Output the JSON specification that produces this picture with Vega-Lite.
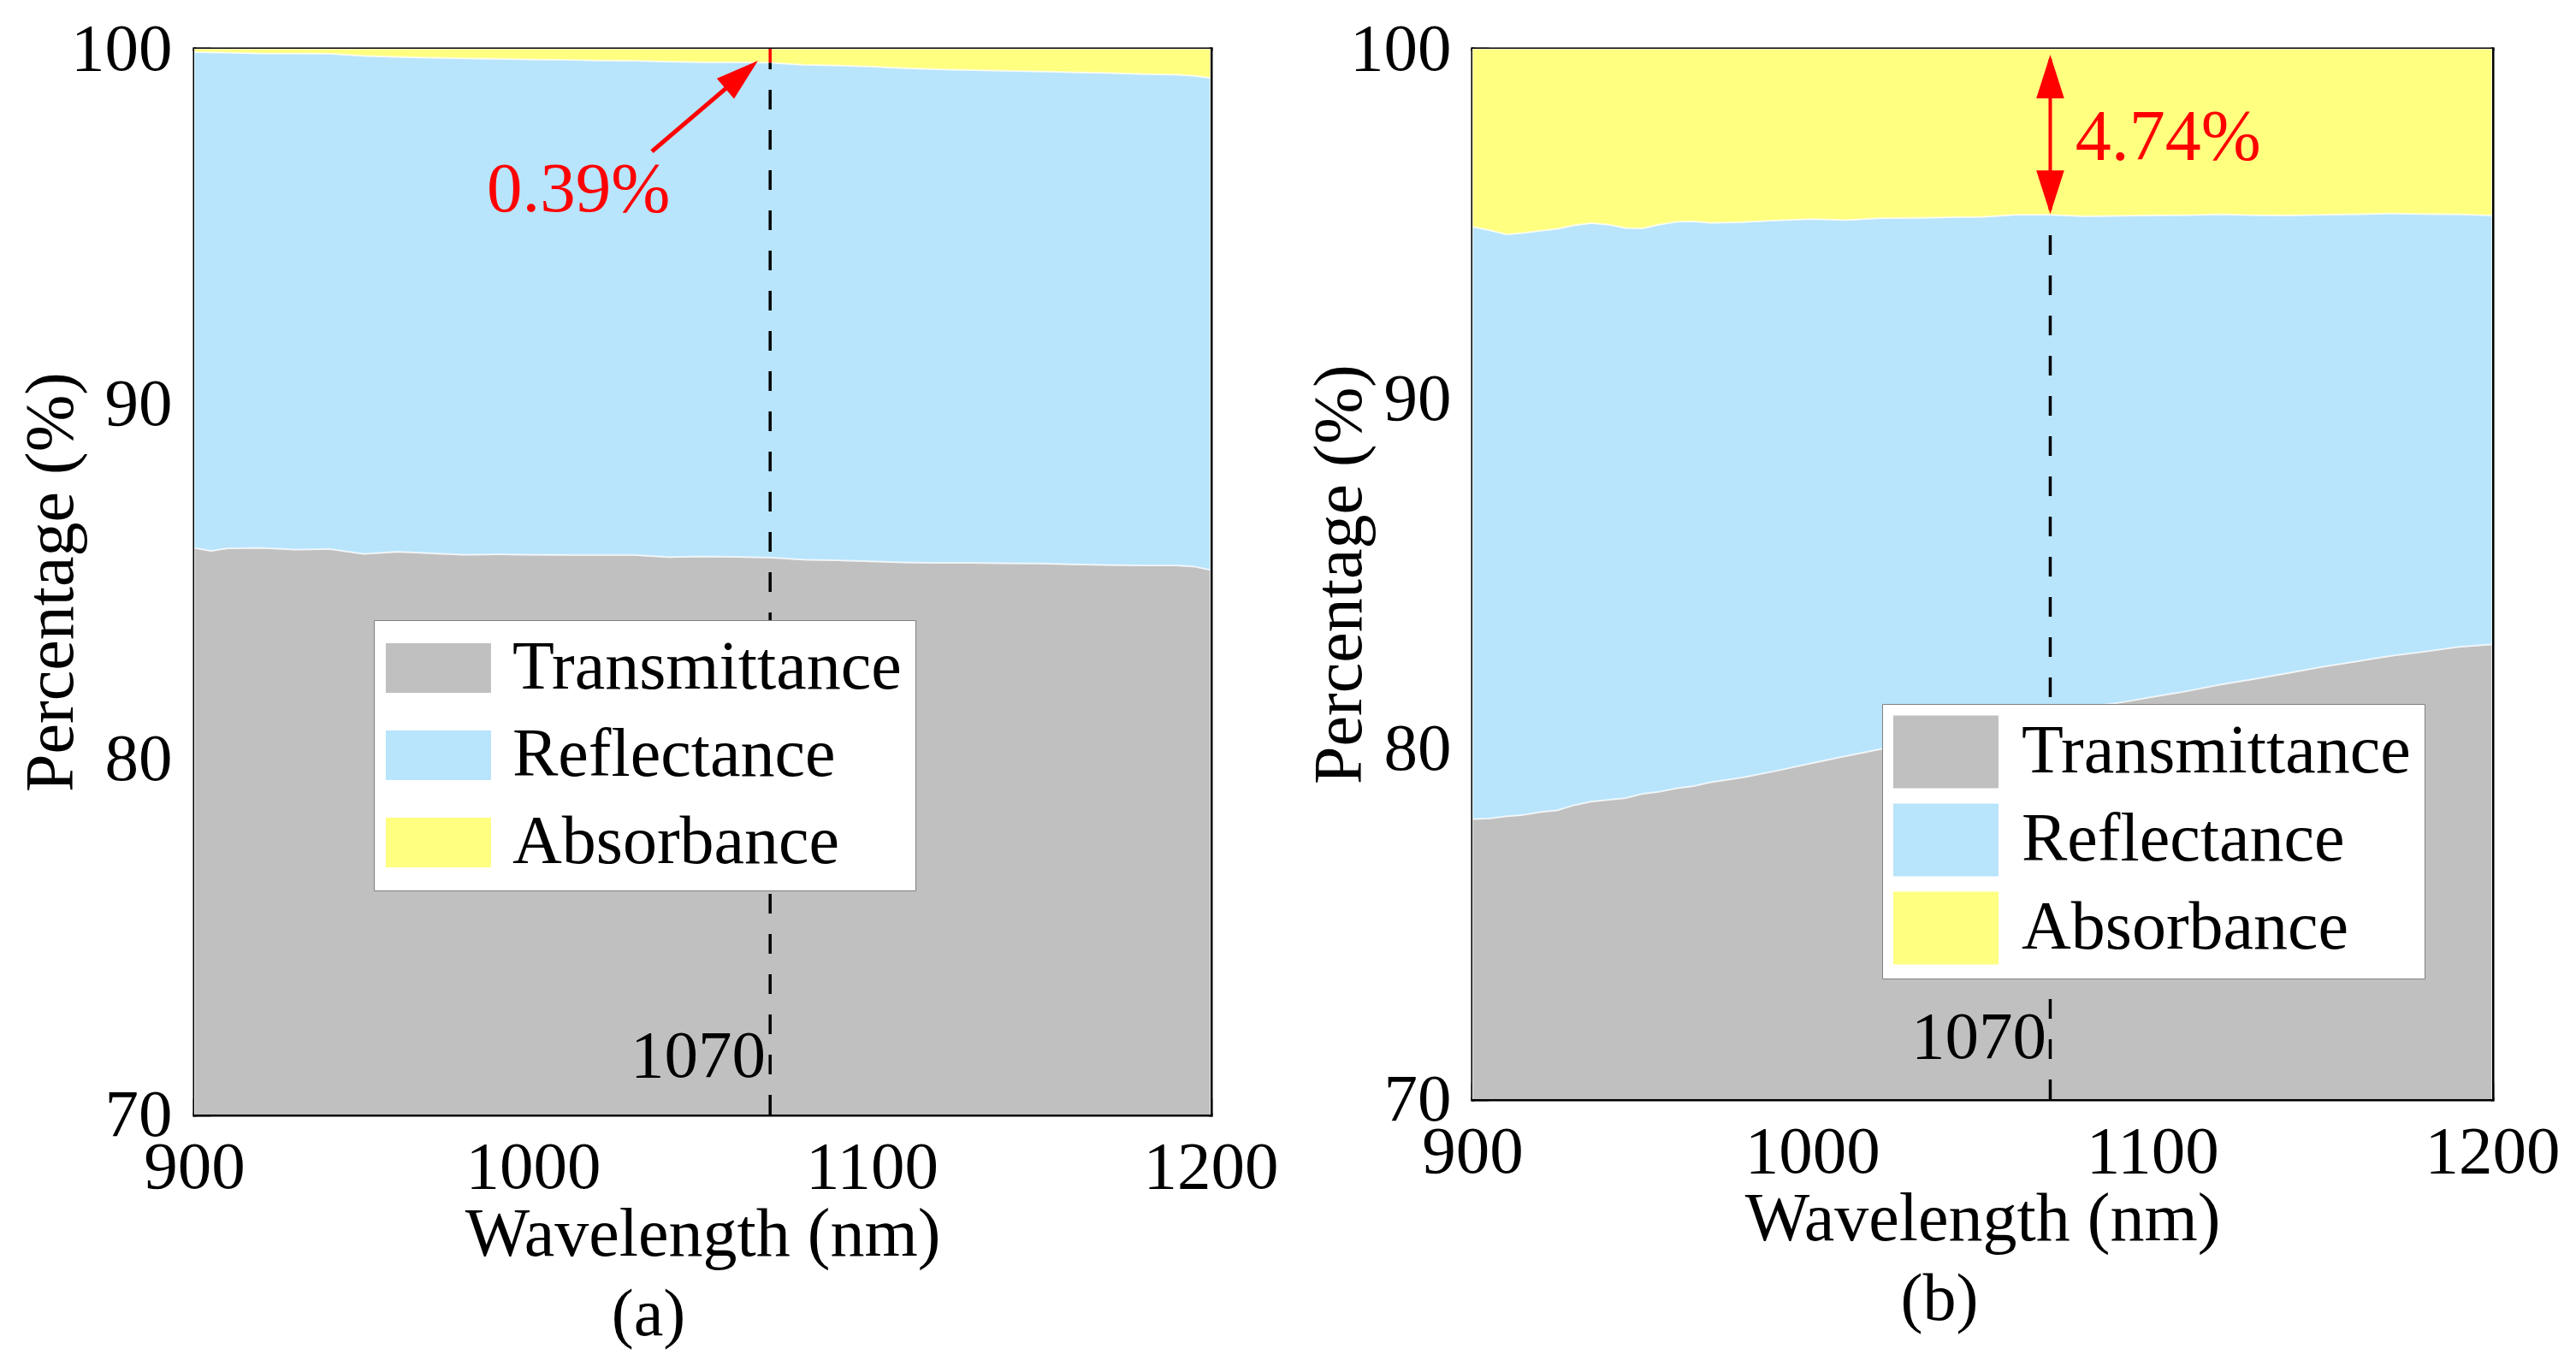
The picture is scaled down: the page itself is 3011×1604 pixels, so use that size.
{
  "$schema": "https://vega.github.io/schema/vega-lite/v6.json",
  "background": "white",
  "padding": {"left": 20, "top": 18, "right": 5, "bottom": 5},
  "spacing": 32,
  "datasets": {
    "curves": [
      {"p":"a","wl":900,"comp":"Transmittance","v":85.95},{"p":"a","wl":900,"comp":"Reflectance","v":13.96},{"p":"a","wl":900,"comp":"Absorbance","v":0.09},
      {"p":"a","wl":905,"comp":"Transmittance","v":85.87},{"p":"a","wl":905,"comp":"Reflectance","v":14.03},{"p":"a","wl":905,"comp":"Absorbance","v":0.10},
      {"p":"a","wl":910,"comp":"Transmittance","v":85.94},{"p":"a","wl":910,"comp":"Reflectance","v":13.95},{"p":"a","wl":910,"comp":"Absorbance","v":0.11},
      {"p":"a","wl":920,"comp":"Transmittance","v":85.95},{"p":"a","wl":920,"comp":"Reflectance","v":13.92},{"p":"a","wl":920,"comp":"Absorbance","v":0.13},
      {"p":"a","wl":930,"comp":"Transmittance","v":85.90},{"p":"a","wl":930,"comp":"Reflectance","v":13.97},{"p":"a","wl":930,"comp":"Absorbance","v":0.13},
      {"p":"a","wl":940,"comp":"Transmittance","v":85.92},{"p":"a","wl":940,"comp":"Reflectance","v":13.94},{"p":"a","wl":940,"comp":"Absorbance","v":0.14},
      {"p":"a","wl":950,"comp":"Transmittance","v":85.78},{"p":"a","wl":950,"comp":"Reflectance","v":14.02},{"p":"a","wl":950,"comp":"Absorbance","v":0.20},
      {"p":"a","wl":960,"comp":"Transmittance","v":85.84},{"p":"a","wl":960,"comp":"Reflectance","v":13.93},{"p":"a","wl":960,"comp":"Absorbance","v":0.23},
      {"p":"a","wl":970,"comp":"Transmittance","v":85.80},{"p":"a","wl":970,"comp":"Reflectance","v":13.95},{"p":"a","wl":970,"comp":"Absorbance","v":0.25},
      {"p":"a","wl":980,"comp":"Transmittance","v":85.76},{"p":"a","wl":980,"comp":"Reflectance","v":13.97},{"p":"a","wl":980,"comp":"Absorbance","v":0.27},
      {"p":"a","wl":990,"comp":"Transmittance","v":85.77},{"p":"a","wl":990,"comp":"Reflectance","v":13.95},{"p":"a","wl":990,"comp":"Absorbance","v":0.28},
      {"p":"a","wl":1000,"comp":"Transmittance","v":85.76},{"p":"a","wl":1000,"comp":"Reflectance","v":13.94},{"p":"a","wl":1000,"comp":"Absorbance","v":0.30},
      {"p":"a","wl":1010,"comp":"Transmittance","v":85.75},{"p":"a","wl":1010,"comp":"Reflectance","v":13.94},{"p":"a","wl":1010,"comp":"Absorbance","v":0.31},
      {"p":"a","wl":1020,"comp":"Transmittance","v":85.75},{"p":"a","wl":1020,"comp":"Reflectance","v":13.92},{"p":"a","wl":1020,"comp":"Absorbance","v":0.33},
      {"p":"a","wl":1030,"comp":"Transmittance","v":85.75},{"p":"a","wl":1030,"comp":"Reflectance","v":13.91},{"p":"a","wl":1030,"comp":"Absorbance","v":0.34},
      {"p":"a","wl":1040,"comp":"Transmittance","v":85.69},{"p":"a","wl":1040,"comp":"Reflectance","v":13.95},{"p":"a","wl":1040,"comp":"Absorbance","v":0.36},
      {"p":"a","wl":1050,"comp":"Transmittance","v":85.71},{"p":"a","wl":1050,"comp":"Reflectance","v":13.91},{"p":"a","wl":1050,"comp":"Absorbance","v":0.38},
      {"p":"a","wl":1060,"comp":"Transmittance","v":85.70},{"p":"a","wl":1060,"comp":"Reflectance","v":13.92},{"p":"a","wl":1060,"comp":"Absorbance","v":0.38},
      {"p":"a","wl":1070,"comp":"Transmittance","v":85.68},{"p":"a","wl":1070,"comp":"Reflectance","v":13.93},{"p":"a","wl":1070,"comp":"Absorbance","v":0.39},
      {"p":"a","wl":1080,"comp":"Transmittance","v":85.62},{"p":"a","wl":1080,"comp":"Reflectance","v":13.93},{"p":"a","wl":1080,"comp":"Absorbance","v":0.45},
      {"p":"a","wl":1090,"comp":"Transmittance","v":85.60},{"p":"a","wl":1090,"comp":"Reflectance","v":13.93},{"p":"a","wl":1090,"comp":"Absorbance","v":0.47},
      {"p":"a","wl":1100,"comp":"Transmittance","v":85.57},{"p":"a","wl":1100,"comp":"Reflectance","v":13.93},{"p":"a","wl":1100,"comp":"Absorbance","v":0.50},
      {"p":"a","wl":1110,"comp":"Transmittance","v":85.54},{"p":"a","wl":1110,"comp":"Reflectance","v":13.91},{"p":"a","wl":1110,"comp":"Absorbance","v":0.55},
      {"p":"a","wl":1120,"comp":"Transmittance","v":85.53},{"p":"a","wl":1120,"comp":"Reflectance","v":13.89},{"p":"a","wl":1120,"comp":"Absorbance","v":0.58},
      {"p":"a","wl":1130,"comp":"Transmittance","v":85.53},{"p":"a","wl":1130,"comp":"Reflectance","v":13.87},{"p":"a","wl":1130,"comp":"Absorbance","v":0.60},
      {"p":"a","wl":1140,"comp":"Transmittance","v":85.52},{"p":"a","wl":1140,"comp":"Reflectance","v":13.86},{"p":"a","wl":1140,"comp":"Absorbance","v":0.62},
      {"p":"a","wl":1150,"comp":"Transmittance","v":85.51},{"p":"a","wl":1150,"comp":"Reflectance","v":13.85},{"p":"a","wl":1150,"comp":"Absorbance","v":0.64},
      {"p":"a","wl":1160,"comp":"Transmittance","v":85.49},{"p":"a","wl":1160,"comp":"Reflectance","v":13.85},{"p":"a","wl":1160,"comp":"Absorbance","v":0.66},
      {"p":"a","wl":1170,"comp":"Transmittance","v":85.47},{"p":"a","wl":1170,"comp":"Reflectance","v":13.85},{"p":"a","wl":1170,"comp":"Absorbance","v":0.68},
      {"p":"a","wl":1180,"comp":"Transmittance","v":85.46},{"p":"a","wl":1180,"comp":"Reflectance","v":13.83},{"p":"a","wl":1180,"comp":"Absorbance","v":0.71},
      {"p":"a","wl":1190,"comp":"Transmittance","v":85.46},{"p":"a","wl":1190,"comp":"Reflectance","v":13.81},{"p":"a","wl":1190,"comp":"Absorbance","v":0.73},
      {"p":"a","wl":1195,"comp":"Transmittance","v":85.43},{"p":"a","wl":1195,"comp":"Reflectance","v":13.81},{"p":"a","wl":1195,"comp":"Absorbance","v":0.76},
      {"p":"a","wl":1200,"comp":"Transmittance","v":85.33},{"p":"a","wl":1200,"comp":"Reflectance","v":13.85},{"p":"a","wl":1200,"comp":"Absorbance","v":0.82},
      {"p":"b","wl":900,"comp":"Transmittance","v":78.00},{"p":"b","wl":900,"comp":"Reflectance","v":16.92},{"p":"b","wl":900,"comp":"Absorbance","v":5.08},
      {"p":"b","wl":905,"comp":"Transmittance","v":78.02},{"p":"b","wl":905,"comp":"Reflectance","v":16.80},{"p":"b","wl":905,"comp":"Absorbance","v":5.18},
      {"p":"b","wl":910,"comp":"Transmittance","v":78.08},{"p":"b","wl":910,"comp":"Reflectance","v":16.62},{"p":"b","wl":910,"comp":"Absorbance","v":5.30},
      {"p":"b","wl":915,"comp":"Transmittance","v":78.12},{"p":"b","wl":915,"comp":"Reflectance","v":16.62},{"p":"b","wl":915,"comp":"Absorbance","v":5.26},
      {"p":"b","wl":920,"comp":"Transmittance","v":78.20},{"p":"b","wl":920,"comp":"Reflectance","v":16.60},{"p":"b","wl":920,"comp":"Absorbance","v":5.20},
      {"p":"b","wl":925,"comp":"Transmittance","v":78.25},{"p":"b","wl":925,"comp":"Reflectance","v":16.61},{"p":"b","wl":925,"comp":"Absorbance","v":5.14},
      {"p":"b","wl":930,"comp":"Transmittance","v":78.40},{"p":"b","wl":930,"comp":"Reflectance","v":16.56},{"p":"b","wl":930,"comp":"Absorbance","v":5.04},
      {"p":"b","wl":935,"comp":"Transmittance","v":78.50},{"p":"b","wl":935,"comp":"Reflectance","v":16.52},{"p":"b","wl":935,"comp":"Absorbance","v":4.98},
      {"p":"b","wl":940,"comp":"Transmittance","v":78.55},{"p":"b","wl":940,"comp":"Reflectance","v":16.43},{"p":"b","wl":940,"comp":"Absorbance","v":5.02},
      {"p":"b","wl":945,"comp":"Transmittance","v":78.60},{"p":"b","wl":945,"comp":"Reflectance","v":16.28},{"p":"b","wl":945,"comp":"Absorbance","v":5.12},
      {"p":"b","wl":950,"comp":"Transmittance","v":78.72},{"p":"b","wl":950,"comp":"Reflectance","v":16.15},{"p":"b","wl":950,"comp":"Absorbance","v":5.13},
      {"p":"b","wl":955,"comp":"Transmittance","v":78.78},{"p":"b","wl":955,"comp":"Reflectance","v":16.20},{"p":"b","wl":955,"comp":"Absorbance","v":5.02},
      {"p":"b","wl":960,"comp":"Transmittance","v":78.88},{"p":"b","wl":960,"comp":"Reflectance","v":16.18},{"p":"b","wl":960,"comp":"Absorbance","v":4.94},
      {"p":"b","wl":965,"comp":"Transmittance","v":78.94},{"p":"b","wl":965,"comp":"Reflectance","v":16.13},{"p":"b","wl":965,"comp":"Absorbance","v":4.93},
      {"p":"b","wl":970,"comp":"Transmittance","v":79.05},{"p":"b","wl":970,"comp":"Reflectance","v":15.98},{"p":"b","wl":970,"comp":"Absorbance","v":4.97},
      {"p":"b","wl":980,"comp":"Transmittance","v":79.20},{"p":"b","wl":980,"comp":"Reflectance","v":15.85},{"p":"b","wl":980,"comp":"Absorbance","v":4.95},
      {"p":"b","wl":990,"comp":"Transmittance","v":79.39},{"p":"b","wl":990,"comp":"Reflectance","v":15.71},{"p":"b","wl":990,"comp":"Absorbance","v":4.90},
      {"p":"b","wl":1000,"comp":"Transmittance","v":79.60},{"p":"b","wl":1000,"comp":"Reflectance","v":15.54},{"p":"b","wl":1000,"comp":"Absorbance","v":4.86},
      {"p":"b","wl":1010,"comp":"Transmittance","v":79.80},{"p":"b","wl":1010,"comp":"Reflectance","v":15.31},{"p":"b","wl":1010,"comp":"Absorbance","v":4.89},
      {"p":"b","wl":1020,"comp":"Transmittance","v":80.00},{"p":"b","wl":1020,"comp":"Reflectance","v":15.16},{"p":"b","wl":1020,"comp":"Absorbance","v":4.84},
      {"p":"b","wl":1030,"comp":"Transmittance","v":80.20},{"p":"b","wl":1030,"comp":"Reflectance","v":14.97},{"p":"b","wl":1030,"comp":"Absorbance","v":4.83},
      {"p":"b","wl":1040,"comp":"Transmittance","v":80.42},{"p":"b","wl":1040,"comp":"Reflectance","v":14.77},{"p":"b","wl":1040,"comp":"Absorbance","v":4.81},
      {"p":"b","wl":1050,"comp":"Transmittance","v":80.62},{"p":"b","wl":1050,"comp":"Reflectance","v":14.58},{"p":"b","wl":1050,"comp":"Absorbance","v":4.80},
      {"p":"b","wl":1060,"comp":"Transmittance","v":80.82},{"p":"b","wl":1060,"comp":"Reflectance","v":14.44},{"p":"b","wl":1060,"comp":"Absorbance","v":4.74},
      {"p":"b","wl":1070,"comp":"Transmittance","v":81.02},{"p":"b","wl":1070,"comp":"Reflectance","v":14.24},{"p":"b","wl":1070,"comp":"Absorbance","v":4.74},
      {"p":"b","wl":1080,"comp":"Transmittance","v":81.20},{"p":"b","wl":1080,"comp":"Reflectance","v":14.02},{"p":"b","wl":1080,"comp":"Absorbance","v":4.78},
      {"p":"b","wl":1090,"comp":"Transmittance","v":81.32},{"p":"b","wl":1090,"comp":"Reflectance","v":13.91},{"p":"b","wl":1090,"comp":"Absorbance","v":4.77},
      {"p":"b","wl":1100,"comp":"Transmittance","v":81.49},{"p":"b","wl":1100,"comp":"Reflectance","v":13.75},{"p":"b","wl":1100,"comp":"Absorbance","v":4.76},
      {"p":"b","wl":1110,"comp":"Transmittance","v":81.65},{"p":"b","wl":1110,"comp":"Reflectance","v":13.60},{"p":"b","wl":1110,"comp":"Absorbance","v":4.75},
      {"p":"b","wl":1120,"comp":"Transmittance","v":81.84},{"p":"b","wl":1120,"comp":"Reflectance","v":13.43},{"p":"b","wl":1120,"comp":"Absorbance","v":4.73},
      {"p":"b","wl":1130,"comp":"Transmittance","v":82.00},{"p":"b","wl":1130,"comp":"Reflectance","v":13.25},{"p":"b","wl":1130,"comp":"Absorbance","v":4.75},
      {"p":"b","wl":1140,"comp":"Transmittance","v":82.17},{"p":"b","wl":1140,"comp":"Reflectance","v":13.07},{"p":"b","wl":1140,"comp":"Absorbance","v":4.76},
      {"p":"b","wl":1150,"comp":"Transmittance","v":82.35},{"p":"b","wl":1150,"comp":"Reflectance","v":12.91},{"p":"b","wl":1150,"comp":"Absorbance","v":4.74},
      {"p":"b","wl":1160,"comp":"Transmittance","v":82.50},{"p":"b","wl":1160,"comp":"Reflectance","v":12.77},{"p":"b","wl":1160,"comp":"Absorbance","v":4.73},
      {"p":"b","wl":1170,"comp":"Transmittance","v":82.66},{"p":"b","wl":1170,"comp":"Reflectance","v":12.64},{"p":"b","wl":1170,"comp":"Absorbance","v":4.70},
      {"p":"b","wl":1180,"comp":"Transmittance","v":82.78},{"p":"b","wl":1180,"comp":"Reflectance","v":12.50},{"p":"b","wl":1180,"comp":"Absorbance","v":4.72},
      {"p":"b","wl":1190,"comp":"Transmittance","v":82.92},{"p":"b","wl":1190,"comp":"Reflectance","v":12.35},{"p":"b","wl":1190,"comp":"Absorbance","v":4.73},
      {"p":"b","wl":1200,"comp":"Transmittance","v":82.99},{"p":"b","wl":1200,"comp":"Reflectance","v":12.25},{"p":"b","wl":1200,"comp":"Absorbance","v":4.76}
    ]
  },
  "hconcat": [
    {
      "width": 1188,
      "height": 1246,
      "title": {"text": "(a)", "orient": "bottom", "anchor": "middle", "frame": "group", "dx": -63, "offset": 16, "fontSize": 78, "font": "Liberation Serif", "fontWeight": "normal", "color": "black"},
      "layer": [
        {
          "data": {"name": "curves"},
          "transform": [{"filter": "datum.p == 'a'"}],
          "mark": {"type": "area", "clip": true, "stroke": "white", "strokeWidth": 2, "strokeOpacity": 0.6},
          "encoding": {
            "x": {"field": "wl", "type": "quantitative", "scale": {"domain": [900, 1200], "nice": false, "zero": false},
                  "axis": {"orient": "bottom", "values": [900, 1000, 1100, 1200], "format": "d", "title": "Wavelength (nm)", "tickSize": -19, "labelPadding": 42, "titlePadding": 0}},
            "y": {"field": "v", "type": "quantitative", "stack": "zero", "scale": {"domain": [70, 100], "nice": false, "zero": false},
                  "axis": {"orient": "left", "values": [70, 80, 90, 100], "format": "d", "title": "Percentage (%)", "tickSize": -19, "labelPadding": 45, "titlePadding": -19}},
            "color": {"field": "comp", "type": "nominal",
                      "scale": {"domain": ["Transmittance", "Reflectance", "Absorbance"], "range": ["#C0C0C0", "#B8E4FC", "#FFFF80"]},
                      "legend": {"orient": "none", "legendX": 210, "legendY": 668, "title": null, "symbolType": "M-1.094,-0.755L2.106,-0.755L2.106,0.755L-1.094,0.755Z", "symbolSize": 5910, "symbolStrokeWidth": 0, "symbolOpacity": 1, "rowPadding": 22, "labelOffset": 66, "labelLimit": 1000, "padding": 16, "strokeColor": "#808080", "fillColor": "white"}},
            "order": {"field": "comp", "type": "ordinal", "sort": "descending"}
          }
        },
        {
          "data": {"values": [{"wl": 1070, "lo": 70, "hi": 99.61}]},
          "mark": {"type": "rule", "color": "black", "strokeWidth": 3.5, "strokeDash": [23, 24]},
          "encoding": {
            "x": {"field": "wl", "type": "quantitative", "axis": {"orient": "bottom", "values": [950, 1050, 1150], "tickSize": -10, "labels": false, "domain": false, "title": null}},
            "y": {"field": "lo", "type": "quantitative", "axis": {"orient": "left", "values": [75, 85, 95], "tickSize": -10, "labels": false, "domain": false, "title": null}},
            "y2": {"field": "hi"}
          }
        },
        {
          "data": {"values": [{"wl": 1070, "lo": 99.61, "hi": 100}]},
          "mark": {"type": "rule", "color": "red", "strokeWidth": 3.5},
          "encoding": {
            "x": {"field": "wl", "type": "quantitative", "axis": {"orient": "top", "ticks": false, "labels": false, "domain": true, "title": null}},
            "y": {"field": "lo", "type": "quantitative", "axis": {"orient": "right", "ticks": false, "labels": false, "domain": true, "title": null}},
            "y2": {"field": "hi"}
          }
        },
        {
          "data": {"values": [{"x0": 1035.1, "y0": 97.11, "x1": 1060.7, "y1": 99.19}]},
          "mark": {"type": "rule", "color": "red", "strokeWidth": 5},
          "encoding": {
            "x": {"field": "x0", "type": "quantitative", "axis": null}, "x2": {"field": "x1"},
            "y": {"field": "y0", "type": "quantitative", "axis": null}, "y2": {"field": "y1"}
          }
        },
        {
          "data": {"values": [{"wl": 1066.4, "v": 99.66}]},
          "mark": {"type": "point", "shape": "M0,0L0.31,1L-0.31,1Z", "size": 10000, "angle": 49.5, "filled": true, "color": "red", "opacity": 1, "strokeWidth": 0},
          "encoding": {
            "x": {"field": "wl", "type": "quantitative", "axis": null},
            "y": {"field": "v", "type": "quantitative", "axis": null}
          }
        },
        {
          "data": {"values": [{"wl": 1013.4, "v": 95.43, "label": "0.39%"}]},
          "mark": {"type": "text", "color": "red", "font": "Liberation Serif", "fontSize": 83, "align": "center", "baseline": "alphabetic"},
          "encoding": {
            "x": {"field": "wl", "type": "quantitative", "axis": null},
            "y": {"field": "v", "type": "quantitative", "axis": null},
            "text": {"field": "label"}
          }
        },
        {
          "data": {"values": [{"wl": 1068.7, "v": 71.06, "label": "1070"}]},
          "mark": {"type": "text", "color": "black", "font": "Liberation Serif", "fontSize": 79, "align": "right", "baseline": "alphabetic"},
          "encoding": {
            "x": {"field": "wl", "type": "quantitative", "axis": null},
            "y": {"field": "v", "type": "quantitative", "axis": null},
            "text": {"field": "label"}
          }
        }
      ],
      "resolve": {"axis": {"x": "independent", "y": "independent"}}
    },
    {
      "width": 1192,
      "height": 1228,
      "title": {"text": "(b)", "orient": "bottom", "anchor": "middle", "frame": "group", "dx": -50, "offset": 16, "fontSize": 78, "font": "Liberation Serif", "fontWeight": "normal", "color": "black"},
      "layer": [
        {
          "data": {"name": "curves"},
          "transform": [{"filter": "datum.p == 'b'"}],
          "mark": {"type": "area", "clip": true, "stroke": "white", "strokeWidth": 2, "strokeOpacity": 0.6},
          "encoding": {
            "x": {"field": "wl", "type": "quantitative", "scale": {"domain": [900, 1200], "nice": false, "zero": false},
                  "axis": {"orient": "bottom", "values": [900, 1000, 1100, 1200], "format": "d", "title": "Wavelength (nm)", "tickSize": -19, "labelPadding": 42, "titlePadding": 0}},
            "y": {"field": "v", "type": "quantitative", "stack": "zero", "scale": {"domain": [70, 100], "nice": false, "zero": false},
                  "axis": {"orient": "left", "values": [70, 80, 90, 100], "format": "d", "title": "Percentage (%)", "tickSize": -19, "labelPadding": 44, "titlePadding": -30}},
            "color": {"field": "comp", "type": "nominal",
                      "scale": {"domain": ["Transmittance", "Reflectance", "Absorbance"], "range": ["#C0C0C0", "#B8E4FC", "#FFFF80"]},
                      "legend": {"orient": "none", "legendX": 479, "legendY": 766, "title": null, "symbolType": "M-1.12,-1.107L2.08,-1.107L2.08,1.107L-1.12,1.107Z", "symbolSize": 5910, "symbolStrokeWidth": 0, "symbolOpacity": 1, "rowPadding": 17, "labelOffset": 67, "labelLimit": 1000, "padding": 16, "strokeColor": "#808080", "fillColor": "white"}},
            "order": {"field": "comp", "type": "ordinal", "sort": "descending"}
          }
        },
        {
          "data": {"values": [{"wl": 1070, "lo": 70, "hi": 95.26}]},
          "mark": {"type": "rule", "color": "black", "strokeWidth": 3.5, "strokeDash": [23, 24]},
          "encoding": {
            "x": {"field": "wl", "type": "quantitative", "axis": {"orient": "bottom", "values": [950, 1050, 1150], "tickSize": -10, "labels": false, "domain": false, "title": null}},
            "y": {"field": "lo", "type": "quantitative", "axis": {"orient": "left", "values": [75, 85, 95], "tickSize": -10, "labels": false, "domain": false, "title": null}},
            "y2": {"field": "hi"}
          }
        },
        {
          "data": {"values": [{"wl": 1070, "lo": 95.4, "hi": 99.7}]},
          "mark": {"type": "rule", "color": "red", "strokeWidth": 4},
          "encoding": {
            "x": {"field": "wl", "type": "quantitative", "axis": {"orient": "top", "ticks": false, "labels": false, "domain": true, "title": null}},
            "y": {"field": "lo", "type": "quantitative", "axis": {"orient": "right", "ticks": false, "labels": false, "domain": true, "title": null}},
            "y2": {"field": "hi"}
          }
        },
        {
          "data": {"values": [{"wl": 1070, "v": 99.83}]},
          "mark": {"type": "point", "shape": "M0,0L0.32,1L-0.32,1Z", "size": 10404, "angle": 0, "filled": true, "color": "red", "opacity": 1, "strokeWidth": 0},
          "encoding": {
            "x": {"field": "wl", "type": "quantitative", "axis": null},
            "y": {"field": "v", "type": "quantitative", "axis": null}
          }
        },
        {
          "data": {"values": [{"wl": 1070, "v": 95.28}]},
          "mark": {"type": "point", "shape": "M0,0L0.32,1L-0.32,1Z", "size": 10404, "angle": 180, "filled": true, "color": "red", "opacity": 1, "strokeWidth": 0},
          "encoding": {
            "x": {"field": "wl", "type": "quantitative", "axis": null},
            "y": {"field": "v", "type": "quantitative", "axis": null}
          }
        },
        {
          "data": {"values": [{"wl": 1077.4, "v": 96.83, "label": "4.74%"}]},
          "mark": {"type": "text", "color": "red", "font": "Liberation Serif", "fontSize": 84, "align": "left", "baseline": "alphabetic"},
          "encoding": {
            "x": {"field": "wl", "type": "quantitative", "axis": null},
            "y": {"field": "v", "type": "quantitative", "axis": null},
            "text": {"field": "label"}
          }
        },
        {
          "data": {"values": [{"wl": 1068.9, "v": 71.17, "label": "1070"}]},
          "mark": {"type": "text", "color": "black", "font": "Liberation Serif", "fontSize": 79, "align": "right", "baseline": "alphabetic"},
          "encoding": {
            "x": {"field": "wl", "type": "quantitative", "axis": null},
            "y": {"field": "v", "type": "quantitative", "axis": null},
            "text": {"field": "label"}
          }
        }
      ],
      "resolve": {"axis": {"x": "independent", "y": "independent"}}
    }
  ],
  "resolve": {"scale": {"color": "independent"}, "legend": {"color": "independent"}},
  "config": {
    "view": {"stroke": null},
    "axis": {"grid": false, "labelFont": "Liberation Serif", "titleFont": "Liberation Serif", "labelColor": "black", "titleColor": "black", "tickColor": "black", "domainColor": "black", "labelFontSize": 79, "titleFontSize": 80, "titleFontWeight": "normal", "tickWidth": 3.5, "domainWidth": 4, "domainCap": "square", "labelFlush": false, "labelOverlap": false, "zindex": 1},
    "legend": {"labelFont": "Liberation Serif", "labelFontSize": 80, "labelColor": "black"}
  }
}
